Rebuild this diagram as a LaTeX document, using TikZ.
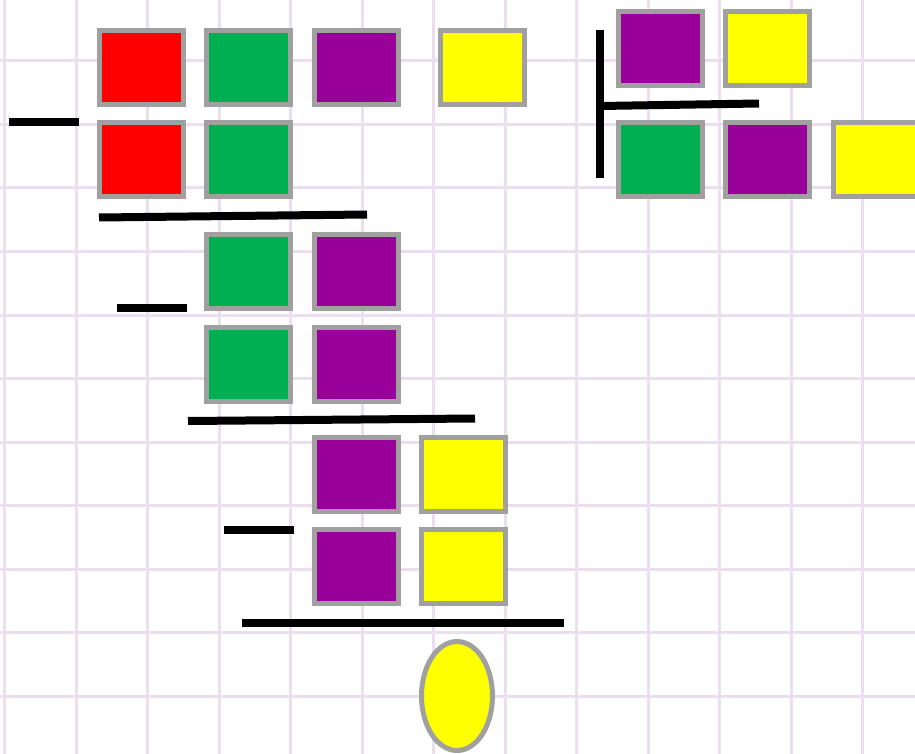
\documentclass[tikz,border=0pt]{standalone}
\usepackage{tikz}
\usetikzlibrary{positioning, shapes.geometric}
\definecolor{gridc}{RGB}{235,222,238}
\definecolor{tileedge}{RGB}{160,160,160}
\definecolor{tilered}{RGB}{255,0,0}
\definecolor{tilegreen}{RGB}{0,176,80}
\definecolor{tilepurple}{RGB}{153,0,153}
\definecolor{tileyellow}{RGB}{255,255,0}
\tikzset{
  tile/.style    = {draw=tileedge, line width=5pt, minimum width=84pt,
                    minimum height=74pt, inner sep=0pt},
  redt/.style    = {tile, fill=tilered},
  greent/.style  = {tile, fill=tilegreen},
  purplet/.style = {tile, fill=tilepurple},
  yellowt/.style = {tile, fill=tileyellow},
  bar/.style     = {line width=8pt},
  gridln/.style  = {draw=gridc, line width=3pt},
}

\begin{document}
\begin{tikzpicture}[x=1pt, y=-1pt]
  \useasboundingbox (0,0) rectangle (915,754);
  \begin{scope}
    \clip (0,0) rectangle (915,754);
    % squared paper
    \foreach \gx in {0,...,12}
      \draw[gridln] (4.5+71.5*\gx,0) -- (4.5+71.5*\gx,754);
    \foreach \gy in {1,...,11}
      \draw[gridln] (0,-2.5+63.5*\gy) -- (915,-2.5+63.5*\gy);

    % first step
    \node[redt] (r1) at (141.5,67.5) {};
    \node[greent, right=18pt of r1] (g1) {};
    \node[purplet, right=19pt of g1] (p1) {};
    \node[yellowt, right=37pt of p1] (y1) {};
    \node[redt, below=13pt of r1] (r2) {};
    \node[greent, right=18pt of r2] (g2) {};
    \draw[bar] (9,122) -- (79,122);
    \draw[bar] (99,217.5) -- (367,214.5);

    % second step
    \node[greent] (g3) at (248.5,271) {};
    \node[purplet, right=19pt of g3] (p3) {};
    \node[greent, below=14pt of g3] (g4) {};
    \node[purplet, right=19pt of g4] (p4) {};
    \draw[bar] (117,307.5) -- (187,307.5);
    \draw[bar] (188,421) -- (475,418.5);

    % third step
    \node[purplet] (p5) at (356,474.5) {};
    \node[yellowt, right=18pt of p5] (y5) {};
    \node[purplet, below=13pt of p5] (p6) {};
    \node[yellowt, right=18pt of p6] (y6) {};
    \draw[bar] (224,530) -- (294,530);
    \draw[bar] (242,622.5) -- (564,622.5);

    % what is left
    \node[ellipse, draw=tileedge, line width=5pt, fill=tileyellow,
          minimum width=71pt, minimum height=109pt, inner sep=0pt] (res) at (457,696) {};

    % the sum on the right
    \node[purplet] (p7) at (660.5,48.5) {};
    \node[yellowt, right=18pt of p7] (y7) {};
    \node[greent] (g8) at (660.5,159.5) {};
    \node[purplet, right=18pt of g8] (p8) {};
    \node[yellowt, right=19pt of p8] (y8) {};
    \draw[bar] (600,30) -- (600,178);
    \draw[bar] (600,106) -- (759,103.5);
  \end{scope}
\end{tikzpicture}
\end{document}
